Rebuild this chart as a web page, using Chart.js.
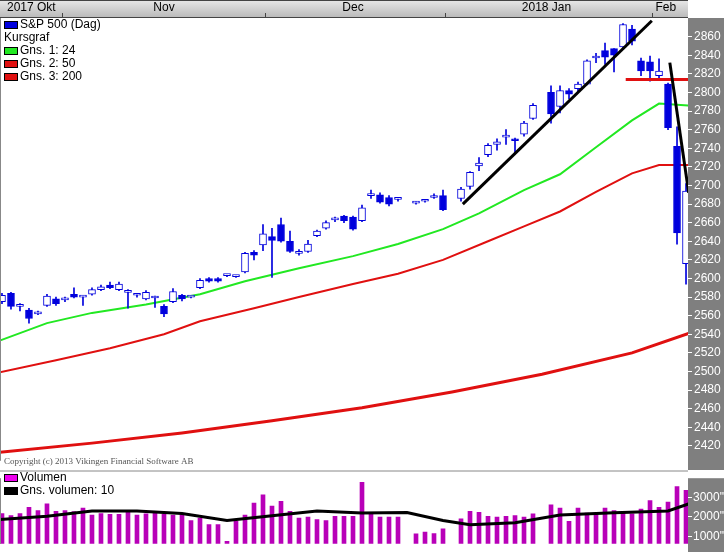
<!DOCTYPE html>
<html><head><meta charset="utf-8">
<script src="https://cdn.jsdelivr.net/npm/chart.js@4/dist/chart.umd.min.js"></script>
<style>
html,body{margin:0;padding:0;background:#fff;overflow:hidden}
#p{position:absolute;left:0;top:0;width:724px;height:470px}
#v{position:absolute;left:0;top:470px;width:724px;height:82px}
</style></head><body>
<div id="p"><canvas id="pc"></canvas></div>
<div id="v"><canvas id="vc"></canvas></div>
<script>
// slot index (trading day position), OHLC
const slots =  [0,1,2,3,4,5,6,7,8,9,10,11,12,13,14,15,16,17,18,19,20,21,22,23,24,25,26,27,28,29,30,31,32,33,34,35,36,37,38,39,40,41,42,43,44,46,47,48,49,51,52,53,54,55,56,57,58,59,61,62,63,64,65,66,67,68,69,70,71,72,73,74,75,76];
const opens =  [2575,2584,2570,2566,2562,2571,2578,2577,2583,2580,2583,2588,2593,2588,2585,2582,2578,2579,2570,2575,2582,2580,2590,2600,2600,2603,2602,2607,2628,2636,2645,2658,2640,2627,2629,2646,2654,2663,2667,2666,2662,2689,2690,2687,2685,2681,2683,2687,2689,2686,2699,2721,2733,2744,2752,2749,2755,2772,2800,2785,2802,2804,2809,2837,2845,2847,2849,2868,2834,2833,2818,2809,2742,2616];
const closes = [2582,2570,2571,2557,2563,2581,2573,2577,2580,2580,2588,2591,2590,2594,2585,2582,2585,2579,2562,2586,2578,2580,2598,2597,2597,2603,2602,2627,2625,2648,2641,2640,2629,2629,2637,2651,2660,2663,2662,2653,2676,2691,2682,2680,2685,2681,2683,2689,2674,2696,2714,2724,2743,2747,2752,2748,2767,2786,2777,2802,2798,2809,2834,2839,2838,2840,2873,2855,2823,2823,2823,2762,2649,2694];
const highs =  [2584,2585,2573,2568,2565,2583,2580,2580,2590,2581,2590,2593,2596,2596,2588,2584,2587,2581,2572,2589,2583,2581,2600,2601,2601,2604,2603,2628,2630,2658,2654,2665,2651,2631,2641,2652,2662,2666,2668,2667,2679,2695,2692,2689,2686,2683,2685,2691,2695,2698,2715,2730,2745,2750,2760,2751,2769,2788,2807,2807,2804,2811,2835,2842,2853,2847,2874,2872,2837,2839,2836,2810,2763,2702];
const lows =   [2573,2567,2565,2552,2561,2570,2571,2575,2579,2571,2582,2587,2589,2587,2568,2580,2577,2569,2559,2574,2576,2579,2589,2596,2596,2602,2601,2606,2620,2630,2601,2639,2628,2625,2628,2645,2653,2661,2660,2652,2661,2686,2681,2678,2683,2680,2682,2686,2673,2683,2696,2716,2731,2738,2744,2734,2753,2771,2767,2778,2793,2801,2808,2832,2830,2822,2846,2851,2818,2812,2813,2760,2637,2594];
// moving averages read at sample slots
const ma24X = [-0.3,5,10,16,22,27,33,39,44,49,53,58,62,66,70,73,76.3];
const ma24Y = [2533,2552,2563,2572,2583,2597,2611,2624,2637,2653,2670,2695,2712,2741,2770,2788,2786];
const ma50X = [-0.3,6,12,18,22,28,33,39,44,49,54,58,62,66,70,73,76.3];
const ma50Y = [2499,2512,2525,2540,2554,2568,2580,2594,2605,2620,2640,2656,2672,2693,2713,2722,2722];
const ma200X = [-0.3,10,20,30,40,50,60,70,76.3];
const ma200Y = [2413,2423,2434,2447,2461,2478,2497,2520,2541];
// drawn trend lines / level
const trend1X=[51.2,72.2], trend1Y=[2680,2877];
const trend2X=[74.2,76.3], trend2Y=[2832,2692];
const levelX=[69.3,76.3], levelY=[2814,2814];
// volume
const volSlots=[0,1,2,3,4,5,6,7,8,9,10,11,12,13,14,15,16,17,18,19,20,21,22,23,24,25,26,27,28,29,30,31,32,33,34,35,36,37,38,39,40,41,42,43,44,46,47,48,49,51,52,53,54,55,56,57,58,59,61,62,63,64,65,66,67,68,69,70,71,72,73,74,75,76];
const volumes=[2170,2070,2170,2500,2330,2670,2290,2330,2270,2460,2090,2170,2130,2130,2260,2090,2160,2240,2130,2090,2110,1810,1940,1600,1600,740,1770,2100,2710,3140,2560,2800,2290,1940,1990,1860,1810,2030,2030,2030,3790,2200,1990,1990,1990,1130,1210,1140,1390,1900,2290,2240,2030,1990,2030,2070,1990,2160,2630,2460,1770,2460,2200,2200,2460,2330,2240,2160,2410,2840,2500,2760,3570,3370];
const volMaX=[-0.3,5,10,15,20,25,30,35,40,45,49,52,57,62,68,74,76.3];
const volMaY=[1860,2030,2310,2310,2170,1810,2060,2310,2200,2230,1810,1600,1700,2100,2210,2310,2670];
const yTicks=[2420,2440,2460,2480,2500,2520,2540,2560,2580,2600,2620,2640,2660,2680,2700,2720,2740,2760,2780,2800,2820,2840,2860];
const volTicks=[1000,2000,3000];
const monthBounds=[6.7,29.2,49.2,72.2];
const monthLabels=[["2017 Okt",8,"left"],["Nov",18,"center"],["Dec",39,"center"],["2018 Jan",60.5,"center"],["Feb",72.6,"left"]];

const BLUE='#0000dd', GREEN='#22e822', RED='#e01010', GRAY='#7f7f7f';
const XMIN=-0.22, XMAX=76.22;
const pts=(xs,ys)=>xs.map((x,i)=>({x,y:ys[i]}));
const bodies=slots.map((s,i)=>({x:s,y:[opens[i],closes[i]]}));
const wicks=slots.map((s,i)=>({x:s,y:[lows[i],highs[i]]}));
const up=slots.map((s,i)=>closes[i]>=opens[i]);

function rightAxis(w){return {afterFit(sc){sc.width=w;}};}

const decor={id:'decor',
 beforeDraw(c){const g=c.ctx,a=c.chartArea;g.save();g.fillStyle='#fff';g.fillRect(0,0,c.width,c.height);
  g.fillStyle=GRAY;g.fillRect(a.right,a.top,c.width-a.right,c.height);g.restore();},
 afterDraw(c){const g=c.ctx,a=c.chartArea,o=c.options.plugins.decor;g.save();
  if(o.header){const gr=g.createLinearGradient(0,0,0,18);gr.addColorStop(0,'#e8e8e8');gr.addColorStop(1,'#b8b8b8');
   g.fillStyle=gr;g.fillRect(0,0,a.right,18);g.fillStyle='#fff';g.fillRect(a.right,0,c.width-a.right,a.top);
   g.strokeStyle='#444';g.lineWidth=1;g.beginPath();g.moveTo(0,0.5);g.lineTo(a.right,0.5);g.moveTo(0,17.5);g.lineTo(a.right,17.5);g.stroke();
   const xs=c.scales.x;g.beginPath();monthBounds.forEach(m=>{const px=Math.round(xs.getPixelForValue(m))+0.5;g.moveTo(px,13);g.lineTo(px,17);});g.stroke();
   g.fillStyle='#000';g.font='12px "Liberation Sans", Arial';g.textBaseline='middle';
   monthLabels.forEach(([t,v,al])=>{g.textAlign=al;g.fillText(t,al==='left'&&v===8?7:xs.getPixelForValue(v),8);});
   g.font='9px "Liberation Serif", serif';g.fillStyle='#555';g.textAlign='left';g.fillText('Copyright (c) 2013 Vikingen Financial Software AB',4,462);
  }
  g.font='12px "Liberation Sans", Arial';g.textAlign='left';g.textBaseline='middle';
  o.legend.forEach(([t,col],i)=>{const y=o.ly+i*13;if(col){g.fillStyle=col;g.fillRect(4,y-4,14,8);g.strokeStyle='#000';g.lineWidth=1;g.strokeRect(4.5,y-3.5,13,7);}
   g.fillStyle='#000';g.fillText(t,col?20:4,y);});
  g.strokeStyle='#888';g.lineWidth=1;g.beginPath();g.moveTo(0.5,a.top);g.lineTo(0.5,a.bottom);
  if(!o.header){g.moveTo(0,1);g.lineTo(a.right,1);}g.stroke();
  g.restore();}};

const common={responsive:true,maintainAspectRatio:false,animation:false,events:[],
 plugins:{legend:{display:false},tooltip:{enabled:false}}};
const tickFont={size:12,family:'"Liberation Sans", Arial'};

new Chart(document.getElementById('pc'),{
 data:{datasets:[
  {type:'line',data:pts(ma200X,ma200Y),borderColor:RED,borderWidth:3,pointRadius:0,order:5},
  {type:'line',data:pts(ma50X,ma50Y),borderColor:RED,borderWidth:2,pointRadius:0,order:5},
  {type:'line',data:pts(ma24X,ma24Y),borderColor:GREEN,borderWidth:2,pointRadius:0,order:5},
  {type:'bar',data:wicks,backgroundColor:BLUE,barThickness:1,grouped:false,order:3},
  {type:'bar',data:bodies,backgroundColor:up.map(u=>u?'#fff':BLUE),borderColor:BLUE,borderWidth:1,borderSkipped:false,barThickness:7,minBarLength:2,grouped:false,order:2},
  {type:'line',data:pts(trend1X,trend1Y),borderColor:'#000',borderWidth:3,pointRadius:0,order:1},
  {type:'line',data:pts(trend2X,trend2Y),borderColor:'#000',borderWidth:3,pointRadius:0,order:1},
  {type:'line',data:pts(levelX,levelY),borderColor:RED,borderWidth:3,pointRadius:0,order:1}
 ]},
 options:{...common,layout:{padding:{top:18,left:0,right:0,bottom:0}},
  plugins:{...common.plugins,decor:{header:true,ly:25,legend:[['S&P 500 (Dag)',BLUE],['Kursgraf',null],['Gns. 1: 24',GREEN],['Gns. 2: 50',RED],['Gns. 3: 200',RED]]}},
  scales:{
   x:{type:'linear',min:XMIN,max:XMAX,display:false,offset:false},
   y:{position:'right',min:2404,max:2880,...rightAxis(36),
    afterBuildTicks(sc){sc.ticks=yTicks.map(v=>({value:v}));},
    grid:{drawOnChartArea:false,drawTicks:true,tickLength:4,color:'#fff'},border:{display:false},
    ticks:{color:'#fff',padding:2,font:tickFont,callback:v=>String(v)}}
  }},
 plugins:[decor]});

new Chart(document.getElementById('vc'),{
 data:{datasets:[
  {type:'line',data:pts(volMaX,volMaY),borderColor:'#000',borderWidth:3,pointRadius:0,order:1},
  {type:'bar',data:volSlots.map((s,i)=>({x:s,y:volumes[i]})),backgroundColor:'#b800b8',barThickness:4,order:2,base:610}
 ]},
 options:{...common,layout:{padding:{top:0,bottom:4}},
  plugins:{...common.plugins,decor:{header:false,ly:8,legend:[['Volumen','#ee00ee'],['Gns. volumen: 10','#000']]}},
  scales:{
   x:{type:'linear',min:XMIN,max:XMAX,display:false,offset:false},
   y:{position:'right',min:610,max:4000,...rightAxis(36),
    afterBuildTicks(sc){sc.ticks=volTicks.map(v=>({value:v}));},
    grid:{drawOnChartArea:false,tickLength:4,color:'#fff'},border:{display:false},
    ticks:{color:'#fff',padding:1,font:tickFont,callback:v=>v+'"'}}
  }},
 plugins:[decor]});
</script></body></html>
